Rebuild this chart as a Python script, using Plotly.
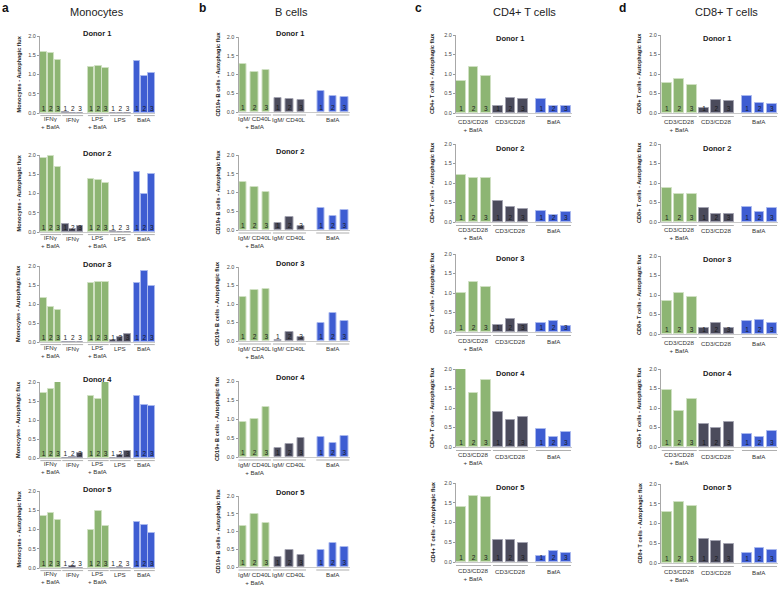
import plotly.graph_objects as go

# ---------------- data ----------------
donors = ["Donor 1", "Donor 2", "Donor 3", "Donor 4", "Donor 5"]
bar_numbers = ["1", "2", "3"]

mono_groups = ["IFNγ<br>+ BafA", "IFNγ", "LPS<br>+ BafA", "LPS", "BafA"]
mono_kinds = ["combo", "stim", "combo", "stim", "baf"]
mono_flux = [
    [1.58, 1.56, 1.38, 0.03, 0.00, 0.00, 1.19, 1.23, 1.18, 0.00, 0.00, 0.00, 1.35, 0.97, 1.05],
    [1.93, 1.97, 1.69, 0.22, 0.08, 0.15, 1.38, 1.35, 1.28, 0.03, 0.00, 0.00, 1.55, 1.00, 1.50],
    [1.15, 0.93, 0.83, 0.00, 0.01, 0.00, 1.54, 1.58, 1.57, 0.05, 0.14, 0.20, 1.55, 1.88, 1.47],
    [1.72, 1.81, 1.99, 0.00, 0.02, 0.12, 1.63, 1.54, 1.99, 0.00, 0.08, 0.18, 1.62, 1.39, 1.37],
    [1.35, 1.44, 1.24, 0.00, 0.05, 0.00, 1.00, 1.48, 1.09, 0.00, 0.02, 0.00, 1.20, 1.13, 0.92],
]

bcell_groups = ["IgM/ CD40L<br>+ BafA", "IgM/ CD40L", "BafA"]
bcell_kinds = ["combo", "stim", "baf"]
bcell_flux = [
    [1.28, 1.08, 1.12, 0.37, 0.34, 0.32, 0.57, 0.43, 0.41],
    [1.27, 1.14, 1.01, 0.18, 0.34, 0.11, 0.60, 0.37, 0.54],
    [1.18, 1.37, 1.40, 0.04, 0.24, 0.11, 0.50, 0.77, 0.55],
    [0.92, 1.00, 1.31, 0.24, 0.33, 0.50, 0.52, 0.38, 0.55],
    [1.15, 1.49, 1.23, 0.27, 0.49, 0.34, 0.49, 0.69, 0.56],
]

tcell_groups = ["CD3/CD28<br>+ BafA", "CD3/CD28", "BafA"]
tcell_kinds = ["combo", "stim", "baf"]
cd4_flux = [
    [0.83, 1.17, 0.95, 0.17, 0.39, 0.36, 0.35, 0.17, 0.17],
    [1.20, 1.13, 1.12, 0.55, 0.38, 0.34, 0.27, 0.17, 0.25],
    [1.00, 1.28, 1.15, 0.17, 0.33, 0.21, 0.23, 0.27, 0.15],
    [2.00, 1.38, 1.73, 0.90, 0.68, 0.78, 0.47, 0.25, 0.38],
    [1.40, 1.67, 1.65, 0.55, 0.55, 0.48, 0.15, 0.28, 0.22],
]
cd8_flux = [
    [0.77, 0.88, 0.72, 0.14, 0.33, 0.30, 0.43, 0.25, 0.23],
    [0.87, 0.72, 0.72, 0.35, 0.20, 0.20, 0.38, 0.25, 0.35],
    [0.85, 1.05, 0.95, 0.15, 0.27, 0.15, 0.33, 0.37, 0.27],
    [1.45, 0.93, 1.22, 0.58, 0.50, 0.63, 0.33, 0.25, 0.42],
    [1.28, 1.55, 1.45, 0.60, 0.55, 0.48, 0.25, 0.38, 0.32],
]

y_tickvals = [0, 0.5, 1.0, 1.5, 2.0]
y_ticktext = ["0.0", "0.5", "1.0", "1.5", "2.0"]

# ---------------- styling / layout ----------------
W, H = 780, 590
FONT = "Liberation Sans, Arial, Helvetica, sans-serif"
fill = {"combo": "#8db573", "stim": "#4b4b5c", "baf": "#3e5dd2"}
edge = {"combo": "#cfe0c2", "stim": "#a3a3b0", "baf": "#a9b8ee"}


def fx(p):
    return p / W


def fy(p):
    return 1 - p / H


panels = [
    dict(groups=mono_groups, kinds=mono_kinds, flux=mono_flux,
         offsets=[0, 3, 6.5, 9.5, 12.8], width=0.88, xrange=[-0.47, 15.25], xdom=(40, 155),
         ydom=[(36, 113), (155, 232), (266, 342), (382, 458), (491, 568)],
         ylabel="Monocytes - Autophagic flux", ylab_x=18, title_x=97, title_dy=-2,
         line_dy=2.6, lab1=6, lab2=13, col_title="Monocytes", col_x=97, letter="a", letter_x=5),
    dict(groups=bcell_groups, kinds=bcell_kinds, flux=bcell_flux,
         offsets=[0, 3, 6.72], width=0.64, xrange=[-0.38, 9.2], xdom=(238.5, 350),
         ydom=[(37, 112), (155, 230), (267, 341), (381, 457), (496, 567)],
         ylabel="CD19+ B cells - Autophagic flux", ylab_x=217, title_x=290, title_dy=-4,
         line_dy=3, lab1=7.3, lab2=14.7, col_title="B cells", col_x=291, letter="b", letter_x=202),
    dict(groups=tcell_groups, kinds=tcell_kinds, flux=cd4_flux,
         offsets=[0, 3, 6.5], width=0.8, xrange=[-0.42, 9.0], xdom=(456, 572),
         ydom=[(35, 113), (144, 222), (254, 332), (369, 447), (483, 562)],
         ylabel="CD4+ T cells - Autophagic flux", ylab_x=432, title_x=510, title_dy=4,
         line_dy=3.5, lab1=9, lab2=15, col_title="CD4+ T cells", col_x=524, letter="c", letter_x=418),
    dict(groups=tcell_groups, kinds=tcell_kinds, flux=cd8_flux,
         offsets=[0, 3, 6.5], width=0.8, xrange=[-0.48, 9.0], xdom=(661, 778),
         ydom=[(35, 113), (144, 222), (256, 334), (369, 447), (484, 563)],
         ylabel="CD8+ T cells - Autophagic flux", ylab_x=639, title_x=717, title_dy=4,
         line_dy=3.5, lab1=9, lab2=15, col_title="CD8+ T cells", col_x=726, letter="d", letter_x=622),
]

fig = go.Figure()
layout_axes = {}
annotations = []
shapes = []
k = 0
for p in panels:
    for r in range(5):
        k += 1
        xref = "x" if k == 1 else f"x{k}"
        yref = "y" if k == 1 else f"y{k}"
        xname = "xaxis" if k == 1 else f"xaxis{k}"
        yname = "yaxis" if k == 1 else f"yaxis{k}"
        top, bot = p["ydom"][r]

        xs, cols, edges, texts = [], [], [], []
        for g, off in enumerate(p["offsets"]):
            for j in range(3):
                xs.append(off + j)
                cols.append(fill[p["kinds"][g]])
                edges.append(edge[p["kinds"][g]])
                texts.append(bar_numbers[j])

        fig.add_trace(go.Bar(
            x=xs, y=p["flux"][r], width=p["width"],
            marker=dict(color=cols, line=dict(color=edges, width=1)),
            xaxis=xref, yaxis=yref, showlegend=False, hoverinfo="skip"))
        fig.add_trace(go.Scatter(
            x=xs, y=[0] * len(xs), mode="text", text=texts, textposition="top center",
            textfont=dict(size=6.5, color="#1a1a1a", family=FONT), cliponaxis=False,
            xaxis=xref, yaxis=yref, showlegend=False, hoverinfo="skip"))

        layout_axes[xname] = dict(
            domain=[fx(p["xdom"][0]), fx(p["xdom"][1])], range=p["xrange"], anchor=yref,
            showticklabels=False, ticks="", showgrid=False, zeroline=False,
            showline=True, linecolor="#c9c9c9", linewidth=1, fixedrange=True)
        layout_axes[yname] = dict(
            domain=[fy(bot), fy(top)], range=[0, 2.0], anchor=xref,
            tickvals=y_tickvals, ticktext=y_ticktext, ticks="outside", ticklen=2,
            tickwidth=1, tickcolor="#9a9a9a", showline=True, linecolor="#a8a8a8", linewidth=1,
            tickfont=dict(size=5.5, color="#444", family=FONT),
            showgrid=False, zeroline=False, fixedrange=True, automargin=False)

        # donor title
        annotations.append(dict(
            text=f"<b>{donors[r]}</b>", x=fx(p["title_x"]), y=fy(top + p["title_dy"]),
            xref="paper", yref="paper", showarrow=False, xanchor="center", yanchor="middle",
            font=dict(size=7.5, color="#1a1a1a", family=FONT)))
        # y label
        annotations.append(dict(
            text=f"<b>{p['ylabel']}</b>", x=fx(p["ylab_x"]), y=fy((top + bot) / 2),
            xref="paper", yref="paper", showarrow=False, textangle=-90,
            xanchor="center", yanchor="middle",
            font=dict(size=5.6, color="#1a1a1a", family=FONT)))
        # group labels and underlines
        for g, off in enumerate(p["offsets"]):
            shapes.append(dict(
                type="line", xref=xref, yref="paper", x0=off - 0.42, x1=off + 2.42,
                y0=fy(bot + p["line_dy"]), y1=fy(bot + p["line_dy"]),
                line=dict(color="#9a9a9a", width=0.8)))
            label = p["groups"][g]
            if "<br>" in label:
                cy = bot + (p["lab1"] + p["lab2"]) / 2
            else:
                cy = bot + p["lab1"]
            annotations.append(dict(
                text=label, x=off + 1, y=fy(cy), xref=xref, yref="paper",
                showarrow=False, xanchor="center", yanchor="middle", align="center",
                font=dict(size=6.2, color="#333", family=FONT)))

    annotations.append(dict(
        text=p["col_title"], x=fx(p["col_x"]), y=fy(12), xref="paper", yref="paper",
        showarrow=False, xanchor="center", yanchor="middle",
        font=dict(size=11, color="#222", family=FONT)))
    annotations.append(dict(
        text=f"<b>{p['letter']}</b>", x=fx(p["letter_x"]), y=fy(8), xref="paper", yref="paper",
        showarrow=False, xanchor="center", yanchor="middle",
        font=dict(size=12, color="#111", family=FONT)))

fig.update_layout(
    width=W, height=H, margin=dict(l=0, r=0, t=0, b=0),
    paper_bgcolor="white", plot_bgcolor="white", bargap=0,
    font=dict(family=FONT, color="#222"),
    annotations=annotations, shapes=shapes, showlegend=False,
    **layout_axes)

fig.write_html("out.html", config={"displayModeBar": False},
               post_script="document.body.style.margin='0px';")
